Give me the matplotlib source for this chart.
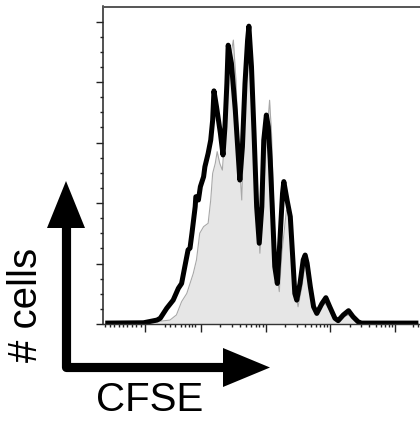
import matplotlib.pyplot as plt
import numpy as np
from matplotlib.patches import Polygon

plt.rcParams['font.family'] = ['Liberation Sans', 'DejaVu Sans']

# CFSE position in decade units (logicle-like display), # cells in % of max
stim_x = [0.52, 1.11, 1.32, 1.37, 1.47, 1.57, 1.65, 1.70, 1.75, 1.80, 1.83, 1.86,
          1.91, 1.92, 1.96, 1.99, 2.04, 2.06, 2.11, 2.15, 2.18, 2.20, 2.24, 2.30,
          2.34, 2.37, 2.40, 2.42, 2.47, 2.53, 2.58, 2.60, 2.64, 2.68, 2.72, 2.74,
          2.78, 2.82, 2.86, 2.90, 2.94, 2.97, 3.01, 3.04, 3.07, 3.11, 3.14, 3.18,
          3.22, 3.26, 3.28, 3.33, 3.38, 3.42, 3.45, 3.48, 3.53, 3.58, 3.61, 3.64,
          3.69, 3.74, 3.79, 3.87, 3.93, 3.99, 4.07, 4.12, 4.20, 4.28, 4.35, 4.43,
          4.48, 5.36]
stim_y = [0.3, 0.4, 1.3, 1.9, 5.2, 7.9, 11.8, 13.4, 19.0, 24.5, 25.1, 30.0,
          38.8, 42.1, 41.0, 45.4, 48.7, 52.0, 56.4, 60.8, 67.4, 77.1, 71.8, 63.0,
          55.9, 65.2, 79.6, 92.2, 86.2, 70.7, 54.2, 47.6, 58.6, 79.6, 93.9, 98.5,
          85.1, 63.0, 38.8, 26.7, 38.8, 60.8, 69.1, 65.2, 54.2, 34.4, 19.0, 13.4,
          27.8, 43.2, 47.1, 41.0, 35.5, 21.2, 10.1, 7.9, 13.4, 21.2, 22.8, 20.1,
          12.3, 5.7, 3.5, 6.8, 8.7, 5.7, 1.9, 1.1, 3.0, 4.4, 2.4, 0.7,
          0.3, 0.3]

ctrl_x = [0.52, 1.11, 1.32, 1.52, 1.62, 1.70, 1.78, 1.83, 1.88, 1.93, 1.98, 2.04,
          2.11, 2.15, 2.18, 2.22, 2.25, 2.29, 2.33, 2.37, 2.41, 2.45, 2.50, 2.54,
          2.58, 2.63, 2.65, 2.69, 2.72, 2.74, 2.78, 2.83, 2.89, 2.91, 2.95, 3.00,
          3.06, 3.09, 3.12, 3.16, 3.21, 3.25, 3.32, 3.37, 3.40, 3.44, 3.50, 3.56,
          3.61, 3.66, 3.71, 3.76, 3.84, 3.92, 3.99, 4.10, 4.20, 4.28, 4.35, 4.43,
          5.36]
ctrl_y = [0.0, 0.3, 0.8, 1.3, 3.0, 7.4, 10.1, 13.4, 16.7, 21.2, 30.0, 32.2,
          33.3, 41.0, 49.8, 53.1, 57.0, 53.1, 50.9, 63.0, 81.8, 87.8, 93.9, 80.7,
          57.5, 41.0, 55.3, 79.6, 92.8, 96.1, 85.1, 57.5, 32.2, 23.4, 35.5, 57.5,
          74.0, 63.0, 41.0, 19.0, 10.7, 23.4, 37.7, 36.6, 25.6, 13.4, 5.7, 12.3,
          20.1, 16.7, 9.0, 4.1, 5.2, 6.8, 4.6, 1.3, 2.4, 3.0, 1.9, 0.4,
          0.0]

fig = plt.figure(figsize=(4.2, 4.21), dpi=100)
W, H = 420, 421
x0, x1, ytop, ybot = 103, 420, 6.5, 324
ax = fig.add_axes([x0 / W, 1 - ybot / H, (x1 - x0) / W, (ybot - ytop) / H])

ax.fill_between(ctrl_x, ctrl_y, 0, color='#e6e6e6', lw=0)
ax.plot(ctrl_x, ctrl_y, color='#a8a8a8', lw=0.8)
ax.plot(stim_x, stim_y, color='black', lw=3.6, solid_joinstyle='round',
        solid_capstyle='butt')

ax.set_xlim(0.485, 5.385)
ax.set_ylim(0, 105)

# axis ticks (logicle style)
zero = 1.134
ax.set_xticks([zero, 2, 3, 4, 5])
minor = [zero - k * 0.068 for k in range(1, 10)]
minor += [1.444, 1.521, 1.598, 1.691, 1.753, 1.815, 1.861, 1.907]
for d in [2, 3, 4]:
    minor += [d + np.log10(k) for k in range(2, 10)]
minor += [5.28, 5.36]
ax.set_xticks(minor, minor=True)
ax.set_yticks(np.arange(0, 101, 20))
ax.set_yticks(np.arange(0, 101, 5), minor=True)
ax.tick_params(which='both', labelbottom=False, labelleft=False,
               color='#222222', width=1.0)
ax.tick_params(axis='x', which='major', length=5.5)
ax.tick_params(axis='x', which='minor', length=2.5)
ax.tick_params(axis='y', which='major', length=5)
ax.tick_params(axis='y', which='minor', length=2)

ax.spines['right'].set_visible(False)
ax.spines['top'].set_color('#555555')
ax.spines['top'].set_linewidth(1.4)
ax.spines['left'].set_color('#222222')
ax.spines['left'].set_linewidth(1.1)
ax.spines['bottom'].set_color('#333333')
ax.spines['bottom'].set_linewidth(1.0)

# arrows and axis titles in pixel space
ov = fig.add_axes([0, 0, 1, 1], facecolor='none')
ov.set_xlim(0, W)
ov.set_ylim(H, 0)
ov.axis('off')
ov.plot([66, 66, 226], [226, 367, 367], color='black', lw=6.6,
        solid_joinstyle='round', solid_capstyle='butt')
ov.add_patch(Polygon([(47, 228), (85, 228), (66, 181)], closed=True,
                     color='black', lw=0))
ov.add_patch(Polygon([(223, 348), (223, 387), (270, 367.5)], closed=True,
                     color='black', lw=0))
ov.text(26, 305, '# cells', rotation=90, ha='center', va='center', fontsize=29)
ov.text(150, 400, 'CFSE', ha='center', va='center', fontsize=29)

fig.savefig('out.png', dpi=100)
